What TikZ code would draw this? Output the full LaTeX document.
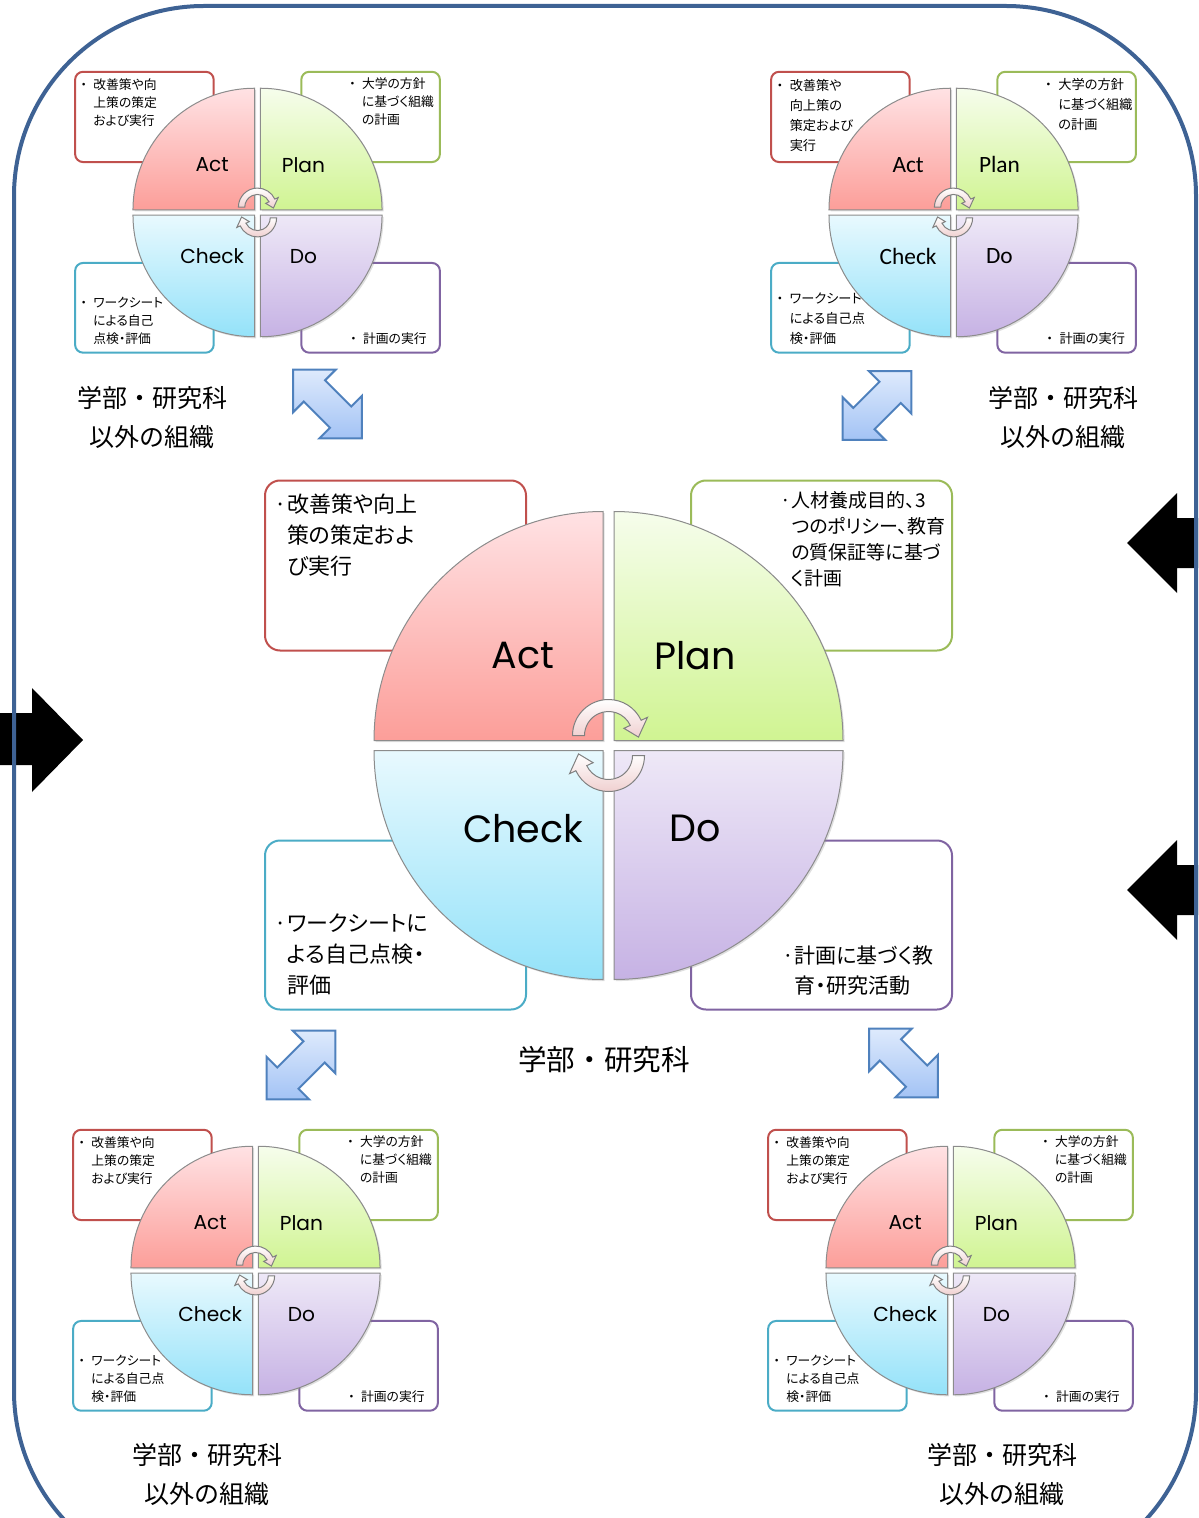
\documentclass[tikz,border=0pt]{standalone}
\usepackage{fontspec}
\setmainfont{Noto Sans CJK JP}
\newfontfamily\jpbox{Noto Sans CJK JP}[RawFeature=+palt]
\newfontfamily\lblfont{Poppins}
\newfontfamily\lblfontb{Carlito}
\usetikzlibrary{shadows}

\definecolor{frameblue}{RGB}{62,98,148}
\definecolor{actline}{RGB}{192,80,77}
\definecolor{planline}{RGB}{155,187,89}
\definecolor{checkline}{RGB}{75,172,198}
\definecolor{doline}{RGB}{128,100,162}
\definecolor{acttop}{RGB}{255,226,228}
\definecolor{actbot}{RGB}{252,158,153}
\definecolor{plantop}{RGB}{246,253,236}
\definecolor{planbot}{RGB}{208,244,146}
\definecolor{checktop}{RGB}{232,249,254}
\definecolor{checkbot}{RGB}{148,226,249}
\definecolor{dotop}{RGB}{238,232,247}
\definecolor{dobot}{RGB}{198,178,228}
\definecolor{cycpink}{RGB}{240,208,208}
\definecolor{linkline}{RGB}{79,129,189}
\definecolor{linktop}{RGB}{222,234,252}
\definecolor{linkbot}{RGB}{163,195,245}

% bullets with hanging indent
\newcommand{\cbul}{·}
\newcommand{\cind}{\hphantom{·}}
\newcommand{\pbul}{・\hspace{0.5em}}
\newcommand{\pind}{\hphantom{・\hspace{0.5em}}}

\tikzset{
  outerframe/.style={draw=frameblue, line width=2pt, rounded corners=95pt},
  notebox/.style={draw=#1, fill=white, line width=1pt},
  boxtxt/.style={inner sep=0pt, align=left},
  acttxt/.style={}, plantxt/.style={}, checktxt/.style={}, dotxt/.style={},
  quad/.style={draw=black!45, line width=0.5pt,
    drop shadow={opacity=0.25, shadow xshift=0.8pt, shadow yshift=-0.8pt}},
  quadlbl/.style={font=\lblfont\fontsize{19}{22}\selectfont, inner sep=0pt, transform shape},
  cycarrow/.style={draw=black!50, line width=0.5pt, top color=white, bottom color=cycpink},
  linkarrow/.style={draw=linkline, line width=1pt, top color=linktop, bottom color=linkbot},
  orglbl/.style={font=\fontsize{12.5}{19.5}\selectfont, align=center},
}

% one PDCA wheel with its four note boxes
\newcommand{\pdcacluster}[8]{%
  \begin{scope}[shift={#2}, scale=#3, #4]
    \draw[notebox=actline, rounded corners={7.5pt*#3}] (-343.5,-265) rectangle (-82.5,-95);
    \draw[notebox=planline, rounded corners={7.5pt*#3}] (82.5,-265) rectangle (343.5,-95);
    \draw[notebox=checkline, rounded corners={7.5pt*#3}] (-343.5,95) rectangle (-82.5,264);
    \draw[notebox=doline, rounded corners={7.5pt*#3}] (82.5,95) rectangle (343.5,264);
    \node[boxtxt, acttxt, anchor=north west] (#1-acttext) at (-334,-252) {#5};
    \node[boxtxt, plantxt, anchor=north west] (#1-plantext) at (172,-254) {#6};
    \node[boxtxt, checktxt, anchor=south west] (#1-checktext) at (-334,250) {#7};
    \node[boxtxt, dotxt, anchor=south west] (#1-dotext) at (174,250) {#8};
    % quadrants
    \shade[quad, top color=acttop, bottom color=actbot] (-5.5,-5) -- (-234.5,-5) arc[start angle=180, end angle=270, radius=229] -- cycle;
    \shade[quad, top color=plantop, bottom color=planbot] (5.5,-5) -- (5.5,-234) arc[start angle=270, end angle=360, radius=229] -- cycle;
    \shade[quad, top color=checktop, bottom color=checkbot] (-5.5,5) -- (-5.5,234) arc[start angle=90, end angle=180, radius=229] -- cycle;
    \shade[quad, top color=dotop, bottom color=dobot] (5.5,5) -- (234.5,5) arc[start angle=0, end angle=90, radius=229] -- cycle;
    % turning arrows in the middle
    \foreach \turn in {0,180}
      \shade[cycarrow, rotate=\turn, shift={(0,-10)}] (180:36) arc[start angle=180, end angle=335, radius=36]
        -- (335:43) -- (3:30) -- (335:17) -- (335:24) arc[start angle=335, end angle=180, radius=24] -- cycle;
    \node[quadlbl] (#1-act) at (-85.5,-90) {Act};
    \node[quadlbl] (#1-plan) at (86.5,-90) {Plan};
    \node[quadlbl] (#1-check) at (-85.5,83) {Check};
    \node[quadlbl] (#1-do) at (86.5,83) {Do};
  \end{scope}}

% blue two-way arrow
\newcommand{\linkarrow}[2]{%
  \shade[linkarrow, shift={#1}, rotate=#2] (-48.5,0) -- (-18.5,30) -- (-18.5,15) -- (18.5,15) -- (18.5,30)
    -- (48.5,0) -- (18.5,-30) -- (18.5,-15) -- (-18.5,-15) -- (-18.5,-30) -- cycle;}

\begin{document}
\begin{tikzpicture}[x=0.5pt, y=-0.5pt]
  \useasboundingbox (0,0) rectangle (1198,1518);

  % black arrows at the edges
  \fill[black] (0,713) -- (32,713) -- (32,688) -- (83,740) -- (32,792) -- (32,765) -- (0,765) -- cycle;
  \fill[black] (1198,518) -- (1177,518) -- (1177,493) -- (1127,543) -- (1177,593) -- (1177,568) -- (1198,568) -- cycle;
  \fill[black] (1198,865) -- (1177,865) -- (1177,840) -- (1127,890) -- (1177,940) -- (1177,915) -- (1198,915) -- cycle;
  \draw[outerframe] (14,6) rectangle (1196,1581);

  % centre
  \pdcacluster{mid}{(608.5,745.5)}{1}{boxtxt/.append style={font=\jpbox\fontsize{11}{15.5}\selectfont},
      plantxt/.style={font=\jpbox\fontsize{9.5}{13}\selectfont},
      dotxt/.style={font=\jpbox\fontsize{10.5}{15}\selectfont}}
    {\cbul 改善策や向上\\\cind 策の策定およ\\\cind び実行}
    {\cbul 人材養成目的、3\\\cind つのポリシー、教育\\\cind の質保証等に基づ\\\cind く計画}
    {\cbul ワークシートに\\\cind よる自己点検・\\\cind 評価}
    {\cbul 計画に基づく教\\\cind 育・研究活動}
  \node[font=\fontsize{14.3}{17}\selectfont] (mid-org) at (604,1060) {学部・研究科};

  % four other units
  \pdcacluster{tl}{(257.5,212.5)}{0.531}{boxtxt/.append style={font=\jpbox\fontsize{6.4}{9}\selectfont}}
    {\pbul 改善策や向\\\pind 上策の策定\\\pind および実行}
    {\pbul 大学の方針\\\pind に基づく組織\\\pind の計画}
    {\pbul ワークシート\\\pind による自己\\\pind 点検・評価}
    {\pbul 計画の実行}
  \pdcacluster{tr}{(953.5,212.5)}{0.531}{boxtxt/.append style={font=\jpbox\fontsize{6.6}{10}\selectfont},
      quadlbl/.append style={font=\lblfontb\fontsize{22}{26}\selectfont}}
    {\pbul 改善策や\\\pind 向上策の\\\pind 策定および\\\pind 実行}
    {\pbul 大学の方針\\\pind に基づく組織\\\pind の計画}
    {\pbul ワークシート\\\pind による自己点\\\pind 検・評価}
    {\pbul 計画の実行}
  \pdcacluster{bl}{(255.5,1270.5)}{0.531}{boxtxt/.append style={font=\jpbox\fontsize{6.4}{9}\selectfont}}
    {\pbul 改善策や向\\\pind 上策の策定\\\pind および実行}
    {\pbul 大学の方針\\\pind に基づく組織\\\pind の計画}
    {\pbul ワークシート\\\pind による自己点\\\pind 検・評価}
    {\pbul 計画の実行}
  \pdcacluster{br}{(950.5,1270.5)}{0.531}{boxtxt/.append style={font=\jpbox\fontsize{6.4}{9}\selectfont}}
    {\pbul 改善策や向\\\pind 上策の策定\\\pind および実行}
    {\pbul 大学の方針\\\pind に基づく組織\\\pind の計画}
    {\pbul ワークシート\\\pind による自己点\\\pind 検・評価}
    {\pbul 計画の実行}

  \node[orglbl] (tl-org) at (152,417.5) {学部・研究科\\以外の組織};
  \node[orglbl] (tr-org) at (1063,417.5) {学部・研究科\\以外の組織};
  \node[orglbl] (bl-org) at (207,1474.5) {学部・研究科\\以外の組織};
  \node[orglbl] (br-org) at (1002,1474.5) {学部・研究科\\以外の組織};

  % links between the units
  \linkarrow{(327.5,404)}{-45}
  \linkarrow{(877,405.5)}{45}
  \linkarrow{(301,1065)}{45}
  \linkarrow{(903.5,1063)}{-45}
\end{tikzpicture}
\end{document}
